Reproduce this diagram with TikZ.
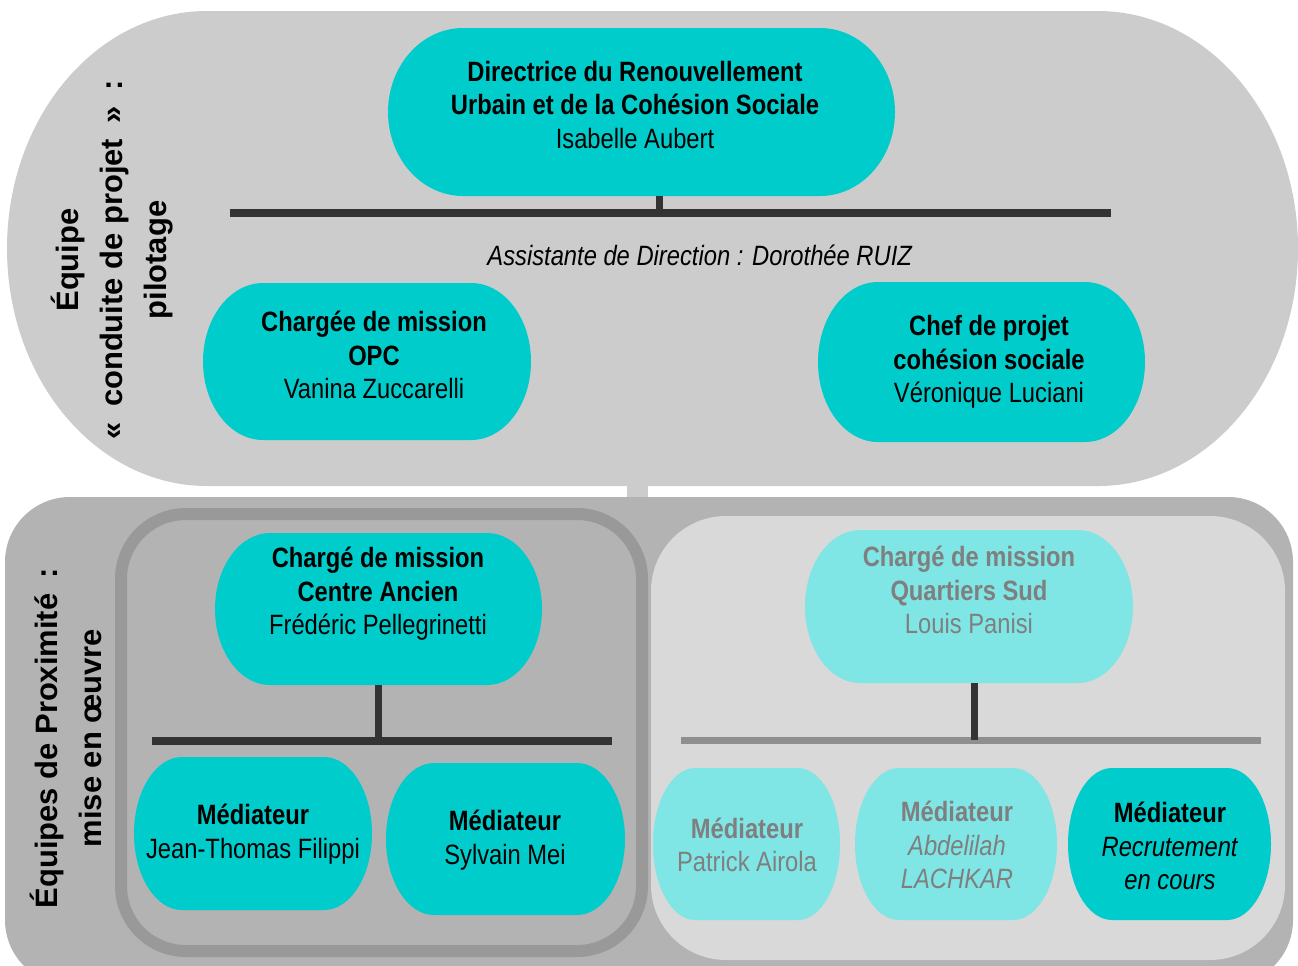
\documentclass[tikz,border=0pt]{standalone}
\usepackage{fontspec}
\setmainfont{Liberation Sans}
\newfontfamily\narrowsf{Liberation Sans}[FakeStretch=0.85]
\usetikzlibrary{calc}

\definecolor{topgrey}{HTML}{CCCCCC}
\definecolor{lowgrey}{HTML}{B3B3B3}
\definecolor{rimgrey}{HTML}{999999}
\definecolor{palegrey}{HTML}{D9D9D9}
\definecolor{teal1}{HTML}{00CCCC}
\definecolor{teal2}{HTML}{80E5E5}
\definecolor{barcol}{HTML}{333333}
\definecolor{palebar}{HTML}{8F8F8F}
\definecolor{greytext}{HTML}{7F7F7F}

% one drawing unit
\def\pxu{0.02cm}

\tikzset{
  blob colour/.style={fill=teal1},
  pale/.style={blob colour/.style={fill=teal2}},
  % flat top and bottom, half ellipses left and right
  blob/.style n args={3}{minimum width=#1*\pxu, minimum height=#2*\pxu, inner sep=0pt,
    path picture={\fill[blob colour]
      ([xshift=#3*\pxu]path picture bounding box.south west)
      -- ([xshift=-#3*\pxu]path picture bounding box.south east)
      arc[start angle=-90,end angle=90,x radius=#3*\pxu,y radius=#2/2*\pxu]
      -- ([xshift=#3*\pxu]path picture bounding box.north west)
      arc[start angle=90,end angle=270,x radius=#3*\pxu,y radius=#2/2*\pxu] -- cycle;}},
  txt/.style={font=\narrowsf\fontsize{15.9}{19.1}\selectfont, align=center, inner sep=0pt},
  greyed/.style={txt, text=greytext},
  side/.style={font=\bfseries\fontsize{17.6}{25}\selectfont, align=center, rotate=90, inner sep=0pt},
  bar/.style={barcol, line width=0.16cm},
  stem/.style={barcol, line width=0.14cm}
}

\begin{document}
\begin{tikzpicture}[x=0.02cm,y=-0.02cm]
\useasboundingbox (0,0) rectangle (1298,965);

% steering band
\fill[topgrey] (207,11) -- (1098,11)
  arc[start angle=90,end angle=-90,x radius=200*\pxu,y radius=237.5*\pxu]
  -- (207,486)
  arc[start angle=270,end angle=90,x radius=200*\pxu,y radius=237.5*\pxu] -- cycle;
\fill[topgrey] (627,484) rectangle (648,499);

% field teams band
\fill[lowgrey, rounded corners=1.3cm] (5,497) rectangle (1293,985);
\draw[rimgrey, fill=lowgrey, line width=0.24cm, rounded corners=1.3cm] (121,514) rectangle (642,951);
\fill[palegrey, rounded corners=1.5cm] (651,516) rectangle (1285,960);

\node[side] (pilot) at (112,260) {Équipe\\«\enspace conduite de projet\enspace »\enspace :\\pilotage};
\node[side] (field) at (66,738) {Équipes de Proximité\enspace :\\mise en œuvre};

% steering team
\node[blob={507}{168}{75}] (dir) at (641.5,112) {};
\node[txt] (dir-t) at (635,105) {\textbf{Directrice du Renouvellement}\\\textbf{Urbain et de la Cohésion Sociale}\\Isabelle Aubert};

\coordinate (topL) at (230,213);
\coordinate (topR) at (1111,213);
\coordinate (dirfoot) at (659,213);
\draw[bar] (topL) -- (topR);
\draw[stem] (dirfoot |- dir.south) -- (dirfoot);

\node[txt] (assist) at (700,255) {\textit{Assistante de Direction : Dorothée RUIZ}};

\node[blob={328}{157}{60}] (opc) at (367,361.5) {};
\node[txt] (opc-t) at (374,355) {\textbf{Chargée de mission}\\\textbf{OPC}\\Vanina Zuccarelli};

\node[blob={327}{160}{60}] (cps) at (981.5,362) {};
\node[txt] (cps-t) at (989,362) {\textbf{Chef de projet}\\\textbf{cohésion sociale}\\Véronique Luciani};

% centre ancien
\node[blob={327}{152}{55}] (ca) at (378.5,609) {};
\node[txt] (ca-t) at (378,594) {\textbf{Chargé de mission}\\\textbf{Centre Ancien}\\Frédéric Pellegrinetti};

\coordinate (caL) at (152,741);
\coordinate (caR) at (612,741);
\draw[bar] (caL) -- (caR);
\draw[stem] (ca.south) -- (ca.south |- caL);

\node[blob={238}{153}{48}] (jtf) at (253,833.5) {};
\node[txt] (jtf-t) at (253,834) {\textbf{Médiateur}\\Jean-Thomas Filippi};

\node[blob={239}{152}{48}] (sm) at (505.5,839) {};
\node[txt] (sm-t) at (505,840) {\textbf{Médiateur}\\Sylvain Mei};

% quartiers sud
\node[blob={328}{153}{55}, pale] (qs) at (969,606.5) {};
\node[greyed] (qs-t) at (969,590) {\textbf{Chargé de mission}\\\textbf{Quartiers Sud}\\Louis Panisi};

\coordinate (qsL) at (681,740);
\coordinate (qsR) at (1261,740);
\coordinate (qsfoot) at (974,740);
\draw[bar, palebar, line width=0.14cm] (qsL) -- (qsR);
\draw[stem] (qsfoot |- qs.south) -- (qsfoot);

\node[blob={187}{152}{42}, pale] (pa) at (746.5,844) {};
\node[greyed] (pa-t) at (747,845) {\textbf{Médiateur}\\Patrick Airola};

\node[blob={202}{152}{44}, pale] (al) at (956,844) {};
\node[greyed] (al-t) at (957,845) {\textbf{Médiateur}\\\textit{Abdelilah}\\\textit{LACHKAR}};

\node[blob={203}{152}{44}] (rc) at (1169.5,844) {};
\node[txt] (rc-t) at (1170,846) {\textbf{Médiateur}\\\textit{Recrutement}\\\textit{en cours}};

\end{tikzpicture}
\end{document}
